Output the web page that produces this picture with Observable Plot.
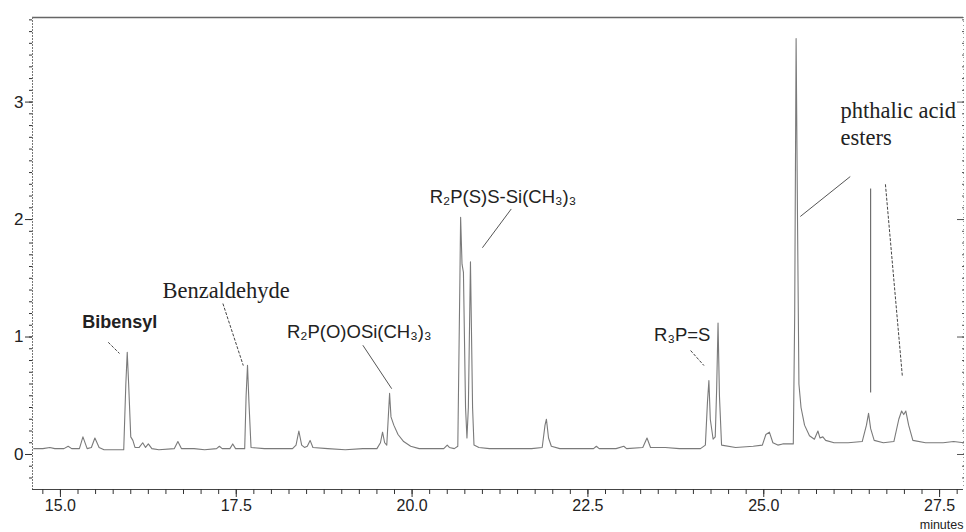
<!DOCTYPE html>
<html>
<head>
<meta charset="utf-8">
<script src="https://cdn.jsdelivr.net/npm/d3@7"></script>
<script src="https://cdn.jsdelivr.net/npm/@observablehq/plot@0.6"></script>
<style>
  html, body { margin: 0; padding: 0; background: #fff; }
</style>
</head>
<body>
<div id="chart"></div>
<script>
// Retention time (minutes) and detector signal
const times = [
  14.62, 14.75, 14.85, 14.92, 15.05, 15.11, 15.16, 15.27, 15.32, 15.38,
  15.44, 15.49, 15.55, 15.62, 15.80, 15.90, 15.93, 15.95, 15.97, 16.00,
  16.03, 16.06, 16.12, 16.17, 16.21, 16.25, 16.30, 16.40, 16.62, 16.67,
  16.72, 16.90, 17.05, 17.22, 17.26, 17.30, 17.41, 17.45, 17.49, 17.62,
  17.64, 17.66, 17.68, 17.71, 17.90, 18.10, 18.30, 18.35, 18.39, 18.43,
  18.47, 18.51, 18.55, 18.59, 18.80, 19.05, 19.30, 19.50, 19.55, 19.58,
  19.61, 19.64, 19.66, 19.68, 19.70, 19.74, 19.80, 19.88, 19.98, 20.10,
  20.30, 20.45, 20.50, 20.53, 20.60, 20.65, 20.68, 20.69, 20.71, 20.73,
  20.76, 20.78, 20.80, 20.83, 20.86, 20.88, 20.95, 21.10, 21.40, 21.70,
  21.85, 21.89, 21.91, 21.94, 21.98, 22.10, 22.40, 22.58, 22.62, 22.66,
  22.90, 23.01, 23.05, 23.28, 23.34, 23.39, 23.60, 23.80, 24.10, 24.17,
  24.20, 24.22, 24.24, 24.28, 24.31, 24.33, 24.35, 24.37, 24.40, 24.60,
  24.85, 24.98, 25.03, 25.08, 25.13, 25.20, 25.27, 25.31, 25.35, 25.42,
  25.44, 25.46, 25.48, 25.50, 25.53, 25.58, 25.65, 25.72, 25.77, 25.80,
  25.84, 25.88, 26.00, 26.20, 26.40, 26.46, 26.49, 26.52, 26.57, 26.70,
  26.85, 26.92, 26.96, 26.99, 27.02, 27.06, 27.12, 27.30, 27.55, 27.70,
  27.84
];
const signal = [
  0.05, 0.05, 0.06, 0.05, 0.05, 0.07, 0.05, 0.05, 0.15, 0.05,
  0.06, 0.14, 0.06, 0.04, 0.04, 0.04, 0.60, 0.87, 0.60, 0.15,
  0.12, 0.06, 0.06, 0.10, 0.06, 0.09, 0.05, 0.04, 0.05, 0.11,
  0.05, 0.05, 0.04, 0.05, 0.07, 0.05, 0.05, 0.09, 0.05, 0.05,
  0.50, 0.76, 0.45, 0.06, 0.05, 0.05, 0.05, 0.08, 0.20, 0.08,
  0.06, 0.07, 0.12, 0.06, 0.05, 0.04, 0.05, 0.05, 0.10, 0.19,
  0.10, 0.08, 0.30, 0.52, 0.32, 0.25, 0.17, 0.11, 0.07, 0.05,
  0.05, 0.05, 0.08, 0.06, 0.05, 0.07, 1.50, 2.02, 1.62, 1.55,
  0.40, 0.14, 0.40, 1.64, 0.40, 0.08, 0.06, 0.05, 0.05, 0.05,
  0.06, 0.25, 0.30, 0.14, 0.07, 0.05, 0.05, 0.05, 0.07, 0.05,
  0.05, 0.07, 0.05, 0.06, 0.14, 0.06, 0.06, 0.05, 0.05, 0.08,
  0.45, 0.63, 0.30, 0.13, 0.15, 0.55, 1.12, 0.50, 0.08, 0.06,
  0.07, 0.08, 0.17, 0.19, 0.10, 0.08, 0.09, 0.09, 0.09, 0.09,
  1.20, 3.54, 2.00, 0.60, 0.40, 0.25, 0.16, 0.13, 0.20, 0.14,
  0.15, 0.12, 0.10, 0.10, 0.11, 0.25, 0.35, 0.22, 0.12, 0.10,
  0.11, 0.30, 0.37, 0.34, 0.37, 0.25, 0.12, 0.10, 0.10, 0.11,
  0.10
];

// Axes
const xDomain = [14.603, 27.84];
const yDomain = [-0.298, 3.72];
const xMajorTicks = [15.0, 17.5, 20.0, 22.5, 25.0, 27.5];
const xMinorTicks = d3.range(59, 112).map(i => i / 4);
const yMajorTicks = [0, 1, 2, 3];
const yMinorTicks = d3.range(-2, 38).map(i => i / 10);
const xUnit = ["minutes"];

// Annotations
const sansBoldLabels = ["Bibensyl"];
const sansBoldX = [15.31];
const sansBoldY = [1.08];

const sansLabels = ["R\u2082P(O)OSi(CH\u2083)\u2083", "R\u2082P(S)S-Si(CH\u2083)\u2083", "R\u2083P=S"];
const sansX = [18.22, 20.25, 23.44];
const sansY = [0.99, 2.145, 0.97];

const serifLabels = ["Benzaldehyde", "phthalic acid\nesters"];
const serifX = [16.45, 26.09];
const serifY = [1.336, 2.638];

// leader lines: [t1, v1, t2, v2]
const solidLeaders = [
  [19.30, 0.93, 19.71, 0.56],
  [21.41, 2.09, 21.00, 1.76],
  [26.23, 2.366, 25.52, 2.026],
  [26.52, 2.264, 26.52, 0.528]
];
const dashedLeaders = [
  [15.68, 0.955, 15.84, 0.86],
  [17.31, 1.285, 17.60, 0.757],
  [23.96, 0.885, 24.15, 0.757],
  [26.73, 2.30, 26.97, 0.67]
];

const trace = times.map((t, i) => ({t, v: signal[i]}));
const toObj = (arr) => arr.map(([x1, y1, x2, y2]) => ({x1, y1, x2, y2}));
const lab = (labels, xs, ys) => labels.map((s, i) => ({s, x: xs[i], y: ys[i]}));

const SANS = "'Liberation Sans', Arial, Helvetica, sans-serif";
const SERIF = "'Liberation Serif', 'Times New Roman', serif";

const chart = Plot.plot({
  width: 966,
  height: 532,
  marginLeft: 32,
  marginRight: 3,
  marginTop: 17,
  marginBottom: 43,
  style: {background: "#fff", fontFamily: SANS, color: "#222"},
  x: {domain: xDomain, label: null},
  y: {domain: yDomain, label: null},
  marks: [
    // frame
    Plot.ruleY([yDomain[1]], {stroke: "#666", strokeWidth: 1.5}),
    Plot.ruleY([yDomain[0]], {stroke: "#444", strokeWidth: 1.2}),
    Plot.ruleX([xDomain[0]], {stroke: "#777", strokeWidth: 1, strokeDasharray: "2,1"}),
    Plot.ruleX([xDomain[1]], {stroke: "#999", strokeWidth: 1, strokeDasharray: "1,3"}),
    // axes
    Plot.axisX(xMinorTicks, {tickSize: 5, tickFormat: () => "", label: null, stroke: "#333"}),
    Plot.axisX(xMajorTicks, {tickSize: 8, tickPadding: 2, tickFormat: d3.format(".1f"), fontSize: 16, label: null, stroke: "#333", fill: "#222"}),
    Plot.axisY(yMinorTicks, {tickSize: 3, tickFormat: () => "", label: null, stroke: "#333"}),
    Plot.axisY(yMajorTicks, {tickSize: 7, tickPadding: 2, tickFormat: d3.format("d"), fontSize: 17, label: null, stroke: "#333", fill: "#222"}),
    Plot.axisY(yMinorTicks, {anchor: "right", tickSize: 2, dx: -2, tickFormat: () => "", label: null, stroke: "#555"}),
    Plot.axisY(yMajorTicks, {anchor: "right", tickSize: 7, dx: -7, tickFormat: () => "", label: null, stroke: "#555"}),
    Plot.text(xUnit, {frameAnchor: "bottom-right", textAnchor: "end", lineAnchor: "bottom", dy: 39, fontSize: 12.5, fill: "#222"}),
    // trace
    Plot.line(trace, {x: "t", y: "v", stroke: "#7a7a7a", strokeWidth: 1.1, curve: "linear"}),
    // leaders
    Plot.link(toObj(solidLeaders), {x1: "x1", y1: "y1", x2: "x2", y2: "y2", stroke: "#555", strokeWidth: 1}),
    Plot.link(toObj(dashedLeaders), {x1: "x1", y1: "y1", x2: "x2", y2: "y2", stroke: "#444", strokeWidth: 1, strokeDasharray: "3,1.5"}),
    // labels
    Plot.text(lab(sansBoldLabels, sansBoldX, sansBoldY), {x: "x", y: "y", text: "s", textAnchor: "start", lineAnchor: "bottom", fontSize: 18, fontWeight: "bold", fontFamily: SANS, fill: "#222"}),
    Plot.text(lab(sansLabels, sansX, sansY), {x: "x", y: "y", text: "s", textAnchor: "start", lineAnchor: "bottom", fontSize: 18.5, fontFamily: SANS, fill: "#222"}),
    Plot.text(lab(serifLabels, serifX, serifY), {x: "x", y: "y", text: "s", textAnchor: "start", lineAnchor: "bottom", fontSize: 22.5, lineHeight: 1.2, fontFamily: SERIF, fill: "#222"})
  ]
});
document.getElementById("chart").appendChild(chart);
</script>
</body>
</html>
